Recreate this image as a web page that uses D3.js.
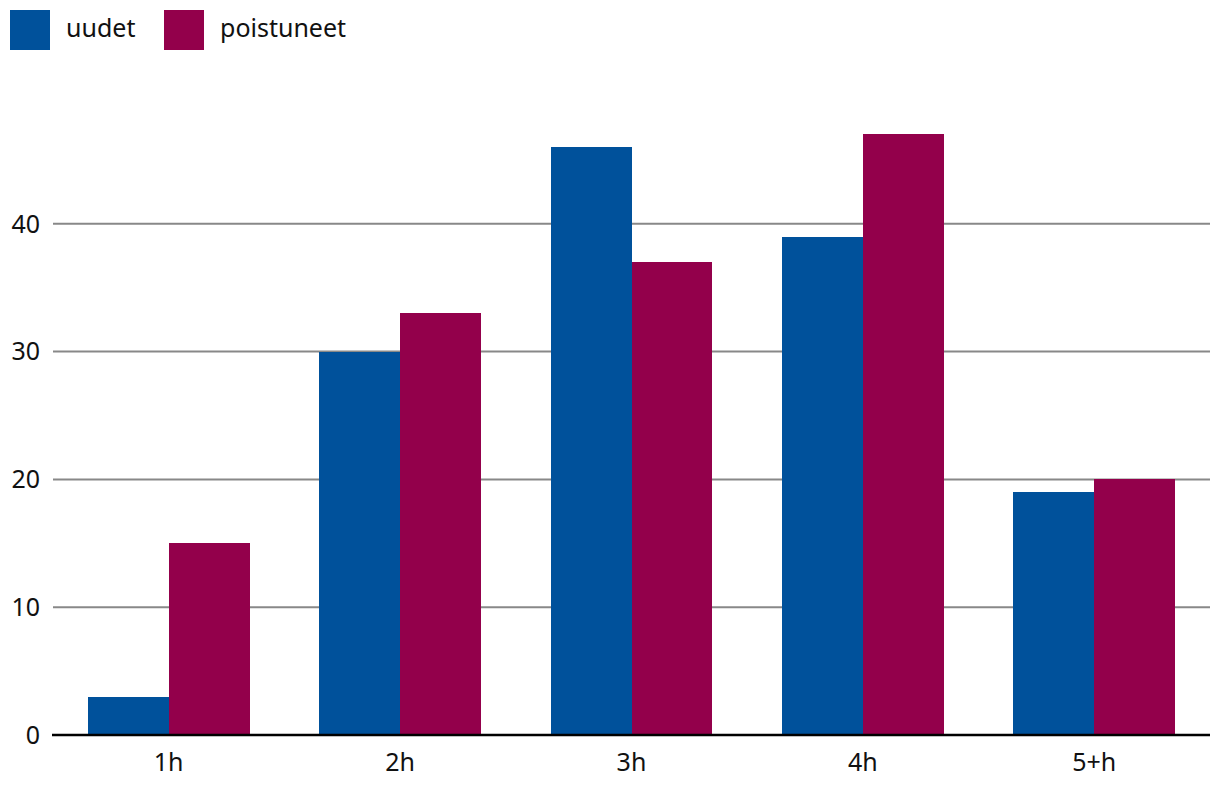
<!DOCTYPE html>
<html><head><meta charset="utf-8">
<script src="https://cdn.jsdelivr.net/npm/d3@7"></script>
<style>body{margin:0;background:#fff}text{font-family:"Noto Sans",sans-serif;fill:#111}rect{shape-rendering:crispEdges}</style>
</head><body><svg id="c" width="1220" height="800"></svg>
<script>
const categories = ["1h","2h","3h","4h","5+h"];
const seriesNames = ["uudet","poistuneet"];
const uudet = [3,30,46,39,19];
const poistuneet = [15,33,37,47,20];
const yTicks = [0,10,20,30,40];
const colors = ["#00519b","#93004b"];

(function(){
const svg = d3.select("#c");
const mLeft = 53, mRight = 1210, mBottom = 735, mTop = 96;
const x = d3.scaleBand().domain(categories).range([mLeft,mRight]).paddingInner(0.3).paddingOuter(0.15);
const xs = d3.scaleBand().domain(seriesNames).range([0,x.bandwidth()]);
const y = d3.scaleLinear().domain([0,50]).range([mBottom,mTop]);

svg.append("g").selectAll("line").data(yTicks.filter(d=>d>0)).join("line")
  .attr("x1",mLeft).attr("x2",mRight).attr("y1",d=>y(d)).attr("y2",d=>y(d))
  .attr("stroke","#888").attr("stroke-width",2);

const series = [uudet,poistuneet];
seriesNames.forEach((s,i)=>{
  svg.append("g").selectAll("rect").data(categories).join("rect")
    .attr("x",(c)=>x(c)+xs(s)).attr("width",xs.bandwidth())
    .attr("y",(c,j)=>y(series[i][j])).attr("height",(c,j)=>y(0)-y(series[i][j]))
    .attr("fill",colors[i]);
});

svg.append("line").attr("x1",mLeft-1).attr("x2",mRight).attr("y1",mBottom).attr("y2",mBottom)
  .attr("stroke","#000").attr("stroke-width",2.5);

svg.append("g").selectAll("text").data(yTicks).join("text")
  .attr("x",40).attr("y",d=>y(d)).attr("dy","0.35em").attr("text-anchor","end")
  .attr("font-size",25).text(d=>d);

svg.append("g").selectAll("text").data(categories).join("text")
  .attr("x",d=>x(d)+x.bandwidth()/2).attr("y",762).attr("dy","0.35em").attr("text-anchor","middle")
  .attr("font-size",25).text(d=>d);

const lx = [10,164];
seriesNames.forEach((s,i)=>{
  svg.append("rect").attr("x",lx[i]).attr("y",10).attr("width",40).attr("height",40).attr("fill",colors[i]);
  svg.append("text").attr("x",lx[i]+56).attr("y",28).attr("dy","0.35em").attr("font-size",25).text(s);
});
})();
</script></body></html>
